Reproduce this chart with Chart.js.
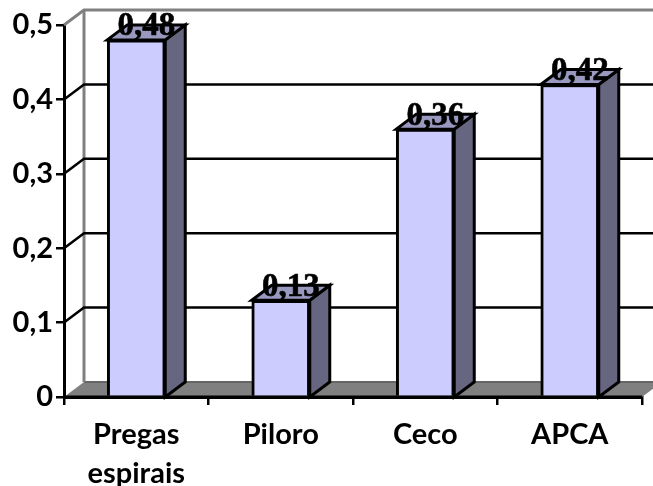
<!DOCTYPE html>
<html>
<head>
<meta charset="utf-8">
<style>
  html, body { margin: 0; padding: 0; background: #fff; }
  canvas { display: block; }
</style>
<script src="https://cdn.jsdelivr.net/npm/chart.js@4/dist/chart.umd.min.js"></script>
</head>
<body>
<canvas id="chart" width="653" height="486"></canvas>
<script>
const categories = [['Pregas', 'espirais'], 'Piloro', 'Ceco', 'APCA'];
const values = [0.48, 0.13, 0.36, 0.42];
const yTicks = [0, 0.1, 0.2, 0.3, 0.4, 0.5];

// fake 3D depth of the old spreadsheet style chart
const DEPTH_X = 20;
const DEPTH_Y = 15;
const WALL_GREY = '#808080';

function fmt(v) {
    return String(v).replace('.', ',');
}

function line(ctx, pts, color, width) {
    ctx.beginPath();
    pts.forEach((p, i) => (i ? ctx.lineTo(p[0], p[1]) : ctx.moveTo(p[0], p[1])));
    ctx.strokeStyle = color;
    ctx.lineWidth = width;
    ctx.stroke();
}

function poly(ctx, pts, fill, stroke, width) {
    ctx.beginPath();
    pts.forEach((p, i) => (i ? ctx.lineTo(p[0], p[1]) : ctx.moveTo(p[0], p[1])));
    ctx.closePath();
    ctx.fillStyle = fill;
    ctx.fill();
    if (stroke) {
        ctx.strokeStyle = stroke;
        ctx.lineWidth = width;
        ctx.lineJoin = 'miter';
        ctx.stroke();
    }
}

const walls3d = {
    id: 'walls3d',
    beforeDatasetsDraw(chart) {
        const { ctx, chartArea, scales } = chart;
        const left = chartArea.left, right = chartArea.right;
        const y0 = scales.y.getPixelForValue(0);
        const yTop = scales.y.getPixelForValue(0.5);
        ctx.save();
        // floor
        poly(ctx, [[left, y0], [left + DEPTH_X, y0 - DEPTH_Y], [right + DEPTH_X, y0 - DEPTH_Y], [right, y0]], WALL_GREY);
        line(ctx, [[left + DEPTH_X, y0 - DEPTH_Y], [right + DEPTH_X, y0 - DEPTH_Y]], '#666666', 2);
        // back wall outline
        line(ctx, [[left, yTop], [left + DEPTH_X, yTop - DEPTH_Y], [right + DEPTH_X, yTop - DEPTH_Y]], WALL_GREY, 3);
        line(ctx, [[left + DEPTH_X, yTop - DEPTH_Y], [left + DEPTH_X, y0 - DEPTH_Y]], WALL_GREY, 3);
        // grid lines run up the side wall and along the back
        yTicks.forEach(t => {
            if (t === 0 || t === 0.5) return;
            const y = scales.y.getPixelForValue(t);
            line(ctx, [[left, y], [left + DEPTH_X, y - DEPTH_Y], [right + DEPTH_X, y - DEPTH_Y]], '#000', 2.5);
        });
        // top and side faces of the bars
        chart.getDatasetMeta(0).data.forEach(bar => {
            const l = bar.x - bar.width / 2, r = bar.x + bar.width / 2;
            poly(ctx, [[r, bar.y], [r + DEPTH_X, bar.y - DEPTH_Y], [r + DEPTH_X, y0 - DEPTH_Y], [r, y0]], '#666680', '#000', 3);
            poly(ctx, [[l, bar.y], [l + DEPTH_X, bar.y - DEPTH_Y], [r + DEPTH_X, bar.y - DEPTH_Y], [r, bar.y]], '#9999C0', '#000', 3);
        });
        ctx.restore();
    },
    afterDatasetsDraw(chart) {
        const { ctx, chartArea, scales } = chart;
        const y0 = scales.y.getPixelForValue(0);
        ctx.save();
        line(ctx, [[chartArea.left, y0], [chartArea.right, y0]], '#000', 3);
        // value labels sit over the top face
        ctx.font = 'bold 33px "Liberation Serif"';
        ctx.textAlign = 'center';
        ctx.textBaseline = 'middle';
        ctx.fillStyle = '#000';
        ctx.strokeStyle = '#000';
        ctx.lineWidth = 0.6;
        chart.getDatasetMeta(0).data.forEach((bar, i) => {
            const x = bar.x + 10, y = bar.y - 13;
            ctx.fillText(fmt(values[i]), x, y);
            ctx.strokeText(fmt(values[i]), x, y);
        });
        ctx.restore();
    }
};

new Chart(document.getElementById('chart'), {
    type: 'bar',
    data: {
        labels: categories,
        datasets: [{
            data: values,
            backgroundColor: '#CCCCFF',
            borderColor: '#000',
            borderWidth: 3,
            barThickness: 58,
        }],
    },
    plugins: [walls3d],
    options: {
        responsive: false,
        animation: false,
        layout: { padding: { top: 25, right: 11, left: 0, bottom: 0 } },
        plugins: { legend: { display: false }, tooltip: { enabled: false } },
        scales: {
            x: {
                grid: { offset: true, drawOnChartArea: false, color: '#000', lineWidth: 2.5, tickLength: 8 },
                border: { color: '#000', width: 3 },
                ticks: {
                    color: '#000',
                    autoSkip: false,
                    maxRotation: 0,
                    padding: 10,
                    font: { family: 'Lato', weight: 'bold', size: 29, lineHeight: 1.35 },
                },
                afterFit(scale) { scale.height = 89; },
            },
            y: {
                min: 0,
                max: 0.5,
                grid: { drawOnChartArea: false, color: '#000', lineWidth: 2.5, tickLength: 8 },
                border: { color: '#000', width: 3 },
                ticks: {
                    color: '#000',
                    stepSize: 0.1,
                    padding: 3,
                    font: { family: 'Lato', weight: 'bold', size: 29 },
                    callback: v => fmt(Math.round(v * 10) / 10),
                },
                afterFit(scale) { scale.width = 64; },
            },
        },
    },
});
</script>
</body>
</html>
